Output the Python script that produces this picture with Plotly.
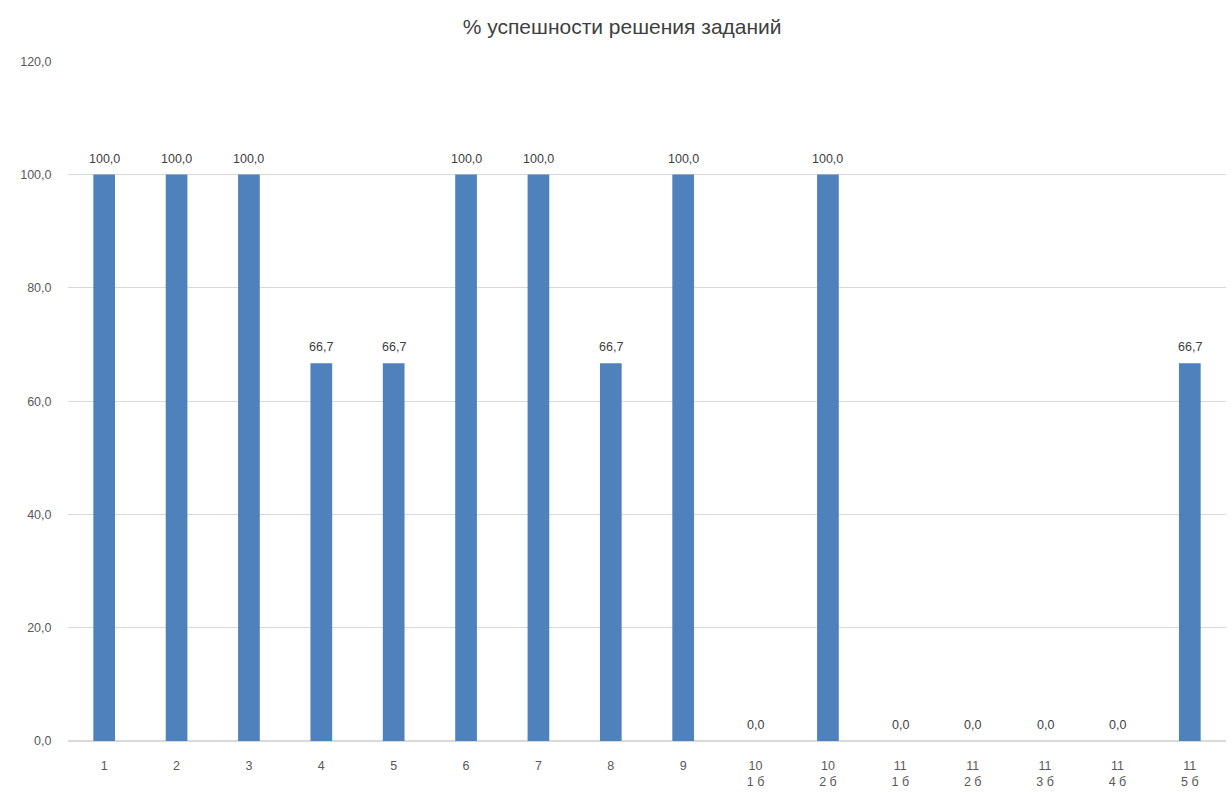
import plotly.graph_objects as go

categories = ["1", "2", "3", "4", "5", "6", "7", "8", "9",
              "10<br>1 б", "10<br>2 б", "11<br>1 б", "11<br>2 б",
              "11<br>3 б", "11<br>4 б", "11<br>5 б"]
values = [100.0, 100.0, 100.0, 66.7, 66.7, 100.0, 100.0, 66.7, 100.0,
          0.0, 100.0, 0.0, 0.0, 0.0, 0.0, 66.7]
y_ticks = [0, 20, 40, 60, 80, 100, 120]

font_family = "Liberation Sans, Arial, sans-serif"

fig = go.Figure(go.Bar(
    x=categories, y=values,
    marker=dict(color="#4f81bd", line=dict(width=0)),
    hoverinfo="x+y",
))

# category axis: annotation x given as category index
for i, v in enumerate(values):
    fig.add_annotation(
        x=i, y=v, text=f"{v:.1f}".replace(".", ","),
        showarrow=False, yanchor="bottom", xanchor="center", yshift=7,
        font=dict(size=12.5, color="#404040", family=font_family),
    )

fig.update_layout(
    width=1232, height=803,
    separators=", ",
    paper_bgcolor="white", plot_bgcolor="white",
    margin=dict(l=68, r=6, t=61, b=62),
    title=dict(text="% успешности решения заданий", x=0.505, xanchor="center",
               y=1 - 27/803, yanchor="middle",
               font=dict(size=21, color="#404040", family=font_family)),
    bargap=0.70,
    showlegend=False,
    font=dict(family=font_family, color="#595959", size=12.5),
)
fig.update_xaxes(type="category", showgrid=False, showline=True, linecolor="#d9d9d9",
                 linewidth=1, ticks="outside", ticklen=13, tickcolor="white",
                 tickfont=dict(size=12.5, color="#595959"))
fig.update_yaxes(range=[0, 120.05], tickvals=y_ticks, tickformat=".1f",
                 showgrid=True, gridcolor="#d9d9d9", gridwidth=1,
                 zeroline=True, zerolinecolor="#d9d9d9",
                 showline=False, ticks="outside", ticklen=13, tickcolor="white",
                 tickfont=dict(size=12.5, color="#595959"))

fig.write_html("out.html")
